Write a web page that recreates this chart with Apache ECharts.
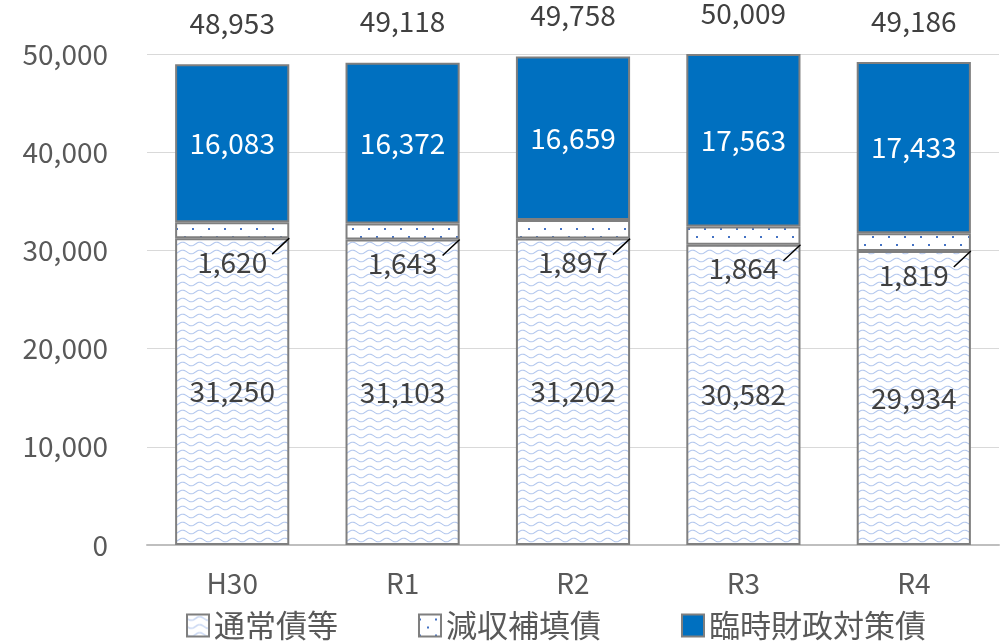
<!DOCTYPE html>
<html>
<head>
<meta charset="utf-8">
<script src="https://cdn.jsdelivr.net/npm/echarts@6/dist/echarts.min.js"></script>
<style>
  html, body { margin: 0; padding: 0; background: #fff; }
  #chart { width: 1004px; height: 641px; }
</style>
</head>
<body>
<div id="chart"></div>
<script>
const categories = ["H30", "R1", "R2", "R3", "R4"];
const regularDebt = [31250, 31103, 31202, 30582, 29934];
const revenueLoss = [1620, 1643, 1897, 1864, 1819];
const tempFinance = [16083, 16372, 16659, 17563, 17433];
const totals = [48953, 49118, 49758, 50009, 49186];
const seriesNames = ["通常債等", "減収補填債", "臨時財政対策債"];

const FONT = '"Noto Sans CJK JP", "Noto Sans", sans-serif';
const fmt = (v) => v.toLocaleString("en-US");

// wave fill
const makeWave = () => {
  const c = document.createElement("canvas");
  c.width = 17;
  c.height = 8;
  const ctx = c.getContext("2d");
  ctx.fillStyle = "#fff";
  ctx.fillRect(0, 0, 17, 8);
  ctx.strokeStyle = "#b4c8ee";
  ctx.lineWidth = 1.1;
  ctx.beginPath();
  for (let x = 0; x <= 17; x++) {
    const y = 4 + 1.8 * Math.sin((x / 17) * Math.PI * 2);
    if (x === 0) ctx.moveTo(x, y);
    else ctx.lineTo(x, y);
  }
  ctx.stroke();
  return c;
};

// dotted fill
const makeDots = () => {
  const c = document.createElement("canvas");
  c.width = 16;
  c.height = 16;
  const ctx = c.getContext("2d");
  ctx.fillStyle = "#fff";
  ctx.fillRect(0, 0, 16, 16);
  ctx.fillStyle = "#4472c4";
  ctx.fillRect(0, 4, 2, 2);
  ctx.fillRect(8, 12, 2, 2);
  return c;
};

const chart = echarts.init(document.getElementById("chart"), null, { renderer: "canvas" });

const border = { borderColor: "#7f7f7f", borderWidth: 2 };

const option = {
  animation: false,
  textStyle: { fontFamily: FONT },
  grid: { left: 147, right: 5, top: 54, bottom: 96 },
  legend: {
    left: 181,
    top: 605,
    icon: "rect",
    itemWidth: 22,
    itemHeight: 22,
    itemGap: 80,
    textStyle: { fontSize: 31, color: "#595959", fontFamily: FONT },
    data: seriesNames,
  },
  xAxis: {
    type: "category",
    data: categories,
    axisTick: { show: false },
    axisLine: { lineStyle: { color: "#bfbfbf", width: 2 } },
    axisLabel: { fontSize: 28, color: "#595959", margin: 24 },
  },
  yAxis: {
    type: "value",
    min: 0,
    max: 50000,
    interval: 10000,
    axisLine: { show: false },
    axisTick: { show: false },
    splitLine: { lineStyle: { color: "#d9d9d9", width: 1 } },
    axisLabel: { fontSize: 28, color: "#595959", margin: 39, formatter: (v) => fmt(v) },
  },
  series: [
    {
      name: seriesNames[0],
      type: "bar",
      stack: "total",
      barWidth: "67%",
      data: regularDebt,
      itemStyle: Object.assign({ color: { image: makeWave(), repeat: "repeat" } }, border),
      label: {
        show: true,
        position: "inside",
        fontSize: 28,
        color: "#404040",
        formatter: (p) => fmt(p.value),
      },
    },
    {
      name: seriesNames[1],
      type: "bar",
      stack: "total",
      data: revenueLoss,
      itemStyle: Object.assign({ color: { image: makeDots(), repeat: "repeat" } }, border),
    },
    {
      name: seriesNames[2],
      type: "bar",
      stack: "total",
      data: tempFinance,
      itemStyle: Object.assign({ color: "#0070c0" }, border),
      label: {
        show: true,
        position: "inside",
        fontSize: 28,
        color: "#fff",
        formatter: (p) => fmt(p.value),
      },
    },
    {
      // 合計
      type: "bar",
      stack: "total",
      data: totals.map(() => 0),
      itemStyle: { color: "transparent" },
      silent: true,
      clip: false,
      label: {
        show: true,
        position: "top",
        distance: 27,
        fontSize: 28,
        color: "#404040",
        formatter: (p) => fmt(totals[p.dataIndex]),
      },
    },
    {
      // 減収補填債のラベル（引出線付き）
      type: "custom",
      silent: true,
      z: 10,
      encode: { x: 0, y: 1 },
      data: categories.map((c, i) => [i, regularDebt[i], revenueLoss[i]]),
      renderItem: (params, api) => {
        const p = api.coord([api.value(0), api.value(1)]);
        const bw = api.size([1, 0])[0] * 0.67;
        return {
          type: "group",
          children: [
            {
              type: "text",
              style: {
                text: fmt(api.value(2)),
                x: p[0],
                y: p[1] + 24,
                align: "center",
                verticalAlign: "middle",
                fill: "#404040",
                fontSize: 28,
                fontFamily: FONT,
              },
            },
            {
              type: "line",
              shape: { x1: p[0] + 40, y1: p[1] + 16, x2: p[0] + bw / 2, y2: p[1] },
              style: { stroke: "#000", lineWidth: 1.5 },
            },
          ],
        };
      },
    },
  ],
};

chart.setOption(option);
</script>
</body>
</html>
